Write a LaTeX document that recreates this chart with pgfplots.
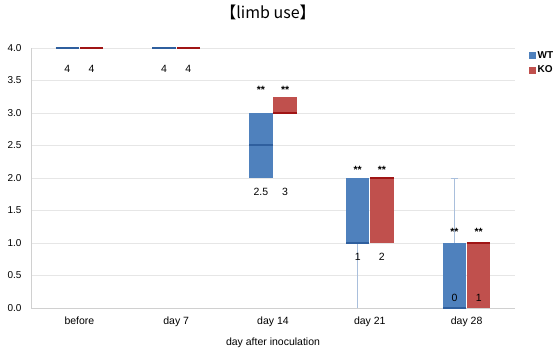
\documentclass[border=0pt]{standalone}
\usepackage{fontspec}
\setmainfont{Liberation Sans}
\newfontfamily\cjk{Noto Sans CJK JP}
\usepackage{pgfplots}
\pgfplotsset{compat=1.18}
\usepgfplotslibrary{statistics}

\definecolor{wtblue}{HTML}{4F81BD}
\definecolor{wtdark}{HTML}{2F5F9E}
\definecolor{wtwhisk}{HTML}{A9BFDC}
\definecolor{kored}{HTML}{C0504D}
\definecolor{kodark}{HTML}{A01515}
\definecolor{gridgray}{HTML}{E6E6E6}
\definecolor{axisgray}{HTML}{D0D0D0}

\pgfplotsset{
  wtbox/.style={draw=none, boxplot/draw direction=y,
    boxplot/box extend=0.24, boxplot/whisker extend=0,
    boxplot/every box/.style={fill=wtblue, draw=none},
    boxplot/every median/.style={draw=wtdark, line width=2pt},
    boxplot/every whisker/.style={draw=wtwhisk, line width=0.9pt}},
  kobox/.style={draw=none, boxplot/draw direction=y,
    boxplot/box extend=0.24, boxplot/whisker extend=0,
    boxplot/every box/.style={fill=kored, draw=none},
    boxplot/every median/.style={draw=kodark, line width=2pt},
    boxplot/every whisker/.style={draw=none}},
}
\tikzset{
  val/.style={font=\fontsize{10.5}{12}\selectfont, anchor=base},
  star/.style={font=\fontsize{10.5}{12}\selectfont\bfseries, anchor=base},
}

\begin{document}
\begin{tikzpicture}[x=1pt,y=1pt]
\useasboundingbox (-31,-45) rectangle (524,308);
\begin{axis}[
  at={(0,0)}, anchor=south west,
  scale only axis, width=484pt, height=260pt,
  xmin=-0.5, xmax=4.5, ymin=0, ymax=4,
  clip=false,
  axis x line*=bottom, axis y line*=left,
  axis line style={draw=axisgray, line width=0.8pt, -},
  xtick={0,1,2,3,4},
  xticklabels={before, day 7, day 14, day 21, day 28},
  ytick={0,0.5,...,4},
  major tick length=0pt,
  ymajorgrids, grid style={draw=gridgray, line width=0.8pt},
  /pgf/number format/assume math mode=true,
  yticklabel style={/pgf/number format/fixed, /pgf/number format/fixed zerofill,
    /pgf/number format/precision=1, font=\fontsize{10}{12}\selectfont, xshift=-6pt},
  xticklabel style={font=\fontsize{10.5}{12}\selectfont, yshift=-5pt},
  xlabel={day after inoculation},
  xlabel style={font=\fontsize{10.5}{12}\selectfont, yshift=-5pt},
  title={\cjk 【limb use】},
  title style={font=\fontsize{16}{18}\selectfont, at={(0.5,1)}, anchor=center, yshift=30pt, xshift=-5pt},
  legend style={draw=none, fill=none, at={(1,1)}, anchor=north west, xshift=13pt, yshift=0pt,
    font=\fontsize{10}{12}\selectfont\bfseries, row sep=2pt, inner sep=1pt},
  legend cell align=left,
]
\addlegendimage{legend image code/.code={\fill[wtblue] (0pt,-3pt) rectangle (6pt,3pt);}}
\addlegendimage{legend image code/.code={\fill[kored] (0pt,-3pt) rectangle (6pt,3pt);}}
\legend{WT,KO}

% WT boxes
\addplot[wtbox, boxplot prepared={draw position=-0.125, lower whisker=4, lower quartile=4, median=4, upper quartile=4, upper whisker=4}] coordinates {};
\addplot[wtbox, boxplot prepared={draw position=0.875, lower whisker=4, lower quartile=4, median=4, upper quartile=4, upper whisker=4}] coordinates {};
\addplot[wtbox, boxplot prepared={draw position=1.875, lower whisker=2, lower quartile=2, median=2.5, upper quartile=3, upper whisker=3}] coordinates {};
\addplot[wtbox, boxplot prepared={draw position=2.875, lower whisker=0, lower quartile=1, median=1, upper quartile=2, upper whisker=2}] coordinates {};
\addplot[wtbox, boxplot/whisker extend=0.07, boxplot prepared={draw position=3.875, lower whisker=0, lower quartile=0, median=0, upper quartile=1, upper whisker=2}] coordinates {};

% KO boxes
\addplot[kobox, boxplot prepared={draw position=0.125, lower whisker=4, lower quartile=4, median=4, upper quartile=4, upper whisker=4}] coordinates {};
\addplot[kobox, boxplot prepared={draw position=1.125, lower whisker=4, lower quartile=4, median=4, upper quartile=4, upper whisker=4}] coordinates {};
\addplot[kobox, boxplot prepared={draw position=2.125, lower whisker=3, lower quartile=3, median=3, upper quartile=3.25, upper whisker=3.25}] coordinates {};
\addplot[kobox, boxplot prepared={draw position=3.125, lower whisker=1, lower quartile=1, median=2, upper quartile=2, upper whisker=2}] coordinates {};
\addplot[kobox, boxplot prepared={draw position=4.125, lower whisker=0, lower quartile=0, median=1, upper quartile=1, upper whisker=1}] coordinates {};

% median values
\node[val] at (axis cs:-0.125,3.62) {4};
\node[val] at (axis cs:0.125,3.62) {4};
\node[val] at (axis cs:0.875,3.62) {4};
\node[val] at (axis cs:1.125,3.62) {4};
\node[val] at (axis cs:1.875,1.73) {2.5};
\node[val] at (axis cs:2.125,1.73) {3};
\node[val] at (axis cs:2.875,0.73) {1};
\node[val] at (axis cs:3.125,0.73) {2};
\node[val] at (axis cs:3.875,0.10) {0};
\node[val] at (axis cs:4.125,0.10) {1};

% significance marks
\node[star] at (axis cs:1.875,3.30) {**};
\node[star] at (axis cs:2.125,3.30) {**};
\node[star] at (axis cs:2.875,2.07) {**};
\node[star] at (axis cs:3.125,2.07) {**};
\node[star] at (axis cs:3.875,1.12) {**};
\node[star] at (axis cs:4.125,1.12) {**};
\end{axis}
\end{tikzpicture}
\end{document}
